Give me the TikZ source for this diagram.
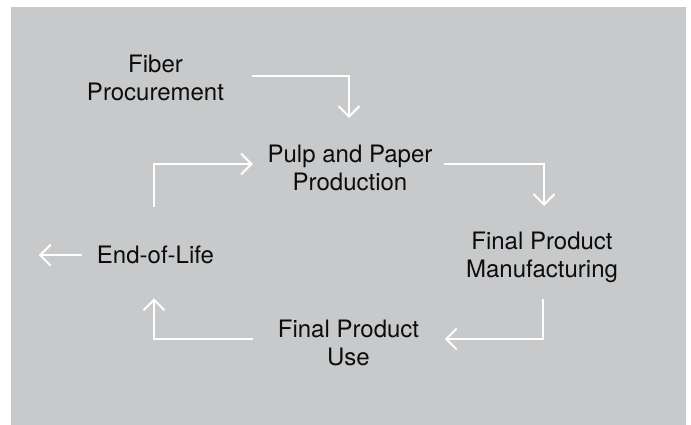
\documentclass[tikz,border=0pt]{standalone}
\usepackage{fontspec}
\setmainfont{TeX Gyre Heros}
\usetikzlibrary{arrows.meta,calc}
\definecolor{panel}{RGB}{200,201,203}
\definecolor{ink}{RGB}{12,12,12}
\tikzset{
  stage/.style={anchor=north, inner sep=0pt, align=center, text=ink,
    font=\fontsize{24}{27.5}\selectfont},
  flow/.style={draw=white, line width=2pt,
    -{Straight Barb[length=10.5pt, width=21pt]}},
}
\begin{document}
\begin{tikzpicture}[x=1pt, y=-1pt]
  \useasboundingbox (0,0) rectangle (691,425);
  \fill[panel] (11,7) rectangle (686,425);

  % life-cycle stages
  \node[stage] (fiber) at (155.5,55)  {Fiber\\Procurement};
  \node[stage] (pulp)  at (350,145)   {Pulp and Paper\\Production};
  \node[stage] (manuf) at (542,232)   {Final Product\\Manufacturing};
  \node[stage] (eol)   at (155.5,246) {End-of-Life};
  \node[stage] (use)   at (348.5,320) {Final Product\\Use};

  % flows between stages
  \draw[flow] ($(fiber.north east)+(27.5,21)$) -| ($(pulp.north)+(-1,-27)$);
  \draw[flow] ($(eol.north)+(-1.5,-39)$) |- ($(pulp.north west)+(-14.5,19)$);
  \draw[flow] ($(pulp.north east)+(11.5,19)$) -| ($(manuf.north)+(2,-26)$);
  \draw[flow] ($(manuf.south)+(1,16)$) |- ($(use.north east)+(25.5,19)$);
  \draw[flow] ($(use.north west)+(-24.5,19)$) -| ($(eol.south)+(-1.5,34)$);
  \draw[flow] ($(eol.west)+(-15,0)$) -- ($(eol.west)+(-58,0)$);
\end{tikzpicture}
\end{document}
